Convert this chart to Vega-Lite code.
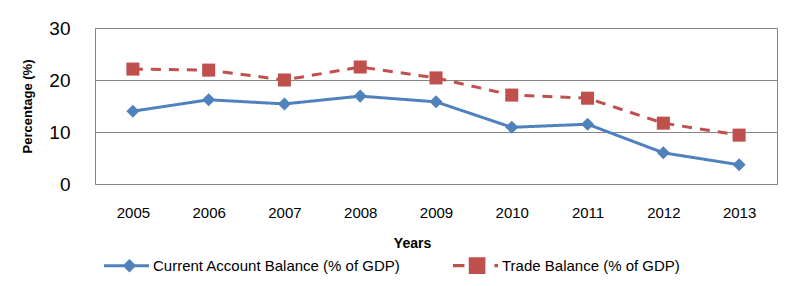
{
  "$schema": "https://vega.github.io/schema/vega-lite/v6.json",
  "width": 682,
  "height": 156,
  "autosize": "none",
  "padding": {"left": 95, "top": 28, "right": 33, "bottom": 102},
  "background": "white",
  "config": {
    "font": "Liberation Sans",
    "view": {"stroke": "#868686", "strokeWidth": 1}
  },
  "data": {
    "values": [
      {"year": "2005", "series": "Current Account Balance (% of GDP)", "value": 14.0},
      {"year": "2006", "series": "Current Account Balance (% of GDP)", "value": 16.2},
      {"year": "2007", "series": "Current Account Balance (% of GDP)", "value": 15.4},
      {"year": "2008", "series": "Current Account Balance (% of GDP)", "value": 16.9},
      {"year": "2009", "series": "Current Account Balance (% of GDP)", "value": 15.8},
      {"year": "2010", "series": "Current Account Balance (% of GDP)", "value": 10.9},
      {"year": "2011", "series": "Current Account Balance (% of GDP)", "value": 11.5},
      {"year": "2012", "series": "Current Account Balance (% of GDP)", "value": 6.0},
      {"year": "2013", "series": "Current Account Balance (% of GDP)", "value": 3.7},
      {"year": "2005", "series": "Trade Balance (% of GDP)", "value": 22.1},
      {"year": "2006", "series": "Trade Balance (% of GDP)", "value": 21.9},
      {"year": "2007", "series": "Trade Balance (% of GDP)", "value": 20.0},
      {"year": "2008", "series": "Trade Balance (% of GDP)", "value": 22.5},
      {"year": "2009", "series": "Trade Balance (% of GDP)", "value": 20.4},
      {"year": "2010", "series": "Trade Balance (% of GDP)", "value": 17.1},
      {"year": "2011", "series": "Trade Balance (% of GDP)", "value": 16.5},
      {"year": "2012", "series": "Trade Balance (% of GDP)", "value": 11.7},
      {"year": "2013", "series": "Trade Balance (% of GDP)", "value": 9.4}
    ]
  },
  "encoding": {
    "x": {
      "field": "year",
      "type": "ordinal",
      "scale": {"type": "point", "padding": 0.5},
      "axis": {
        "title": "Years",
        "labelAngle": 0,
        "labelFontSize": 15,
        "labelColor": "#000000",
        "labelPadding": 21,
        "labelBaseline": "top",
        "ticks": false,
        "domain": false,
        "grid": false,
        "titleFontSize": 14,
        "titleFontWeight": "bold",
        "titleColor": "#000000",
        "titleX": 317,
        "titleY": 59,
        "titleAlign": "center",
        "titleBaseline": "middle"
      }
    },
    "y": {
      "field": "value",
      "type": "quantitative",
      "scale": {"domain": [0, 30], "nice": false},
      "axis": {
        "title": "Percentage (%)",
        "values": [0, 10, 20, 30],
        "labelFontSize": 19,
        "labelColor": "#000000",
        "labelPadding": 25,
        "ticks": false,
        "domain": false,
        "grid": true,
        "gridColor": "#868686",
        "gridWidth": 1,
        "titleFontSize": 13,
        "titleFontWeight": "bold",
        "titleColor": "#000000",
        "titleX": -68,
        "titleY": 78,
        "titleAlign": "center",
        "titleBaseline": "middle",
        "titleAngle": -90
      }
    },
    "color": {
      "field": "series",
      "type": "nominal",
      "scale": {
        "domain": ["Current Account Balance (% of GDP)", "Trade Balance (% of GDP)"],
        "range": ["#4F81BD", "#C0504D"]
      },
      "legend": {
        "title": null,
        "orient": "none",
        "direction": "horizontal",
        "legendX": 9,
        "legendY": 215,
        "symbolSize": 2025,
        "symbolStrokeWidth": 0,
        "symbolOpacity": 1,
        "labelFontSize": 15,
        "labelColor": "#000000",
        "labelLimit": 0,
        "labelOffset": 4,
        "columnPadding": 52
      }
    }
  },
  "layer": [
    {
      "mark": {"type": "line", "strokeWidth": 3},
      "encoding": {
        "strokeDash": {
          "field": "series",
          "type": "nominal",
          "scale": {
            "domain": ["Current Account Balance (% of GDP)", "Trade Balance (% of GDP)"],
            "range": [[1, 0], [10, 8]]
          },
          "legend": null
        }
      }
    },
    {
      "mark": {"type": "point", "filled": true, "size": 0, "strokeWidth": 0, "opacity": 1},
      "encoding": {
        "shape": {
          "field": "series",
          "type": "nominal",
          "scale": {
            "domain": ["Current Account Balance (% of GDP)", "Trade Balance (% of GDP)"],
            "range": [
              "M-1,-0.07H1V0.07H-1Z M0.13,-0.3L0.43,0L0.13,0.3L-0.17,0Z",
              "M-1,-0.07H-0.49V0.07H-1Z M-0.3,-0.37H0.44V0.37H-0.3Z M0.84,-0.07H1V0.07H0.84Z"
            ]
          },
          "legend": {
            "title": null,
            "orient": "none",
            "direction": "horizontal",
            "legendX": 9,
            "legendY": 215,
            "symbolSize": 2025,
            "symbolStrokeWidth": 0,
            "symbolOpacity": 1,
            "labelFontSize": 15,
            "labelColor": "#000000",
            "labelLimit": 0,
            "labelOffset": 4,
            "columnPadding": 52
          }
        }
      }
    },
    {
      "transform": [{"filter": "datum.series === 'Current Account Balance (% of GDP)'"}],
      "mark": {"type": "point", "filled": true, "size": 170, "opacity": 1, "shape": "diamond"}
    },
    {
      "transform": [{"filter": "datum.series === 'Trade Balance (% of GDP)'"}],
      "mark": {"type": "point", "filled": true, "size": 170, "opacity": 1, "shape": "square"}
    }
  ]
}
